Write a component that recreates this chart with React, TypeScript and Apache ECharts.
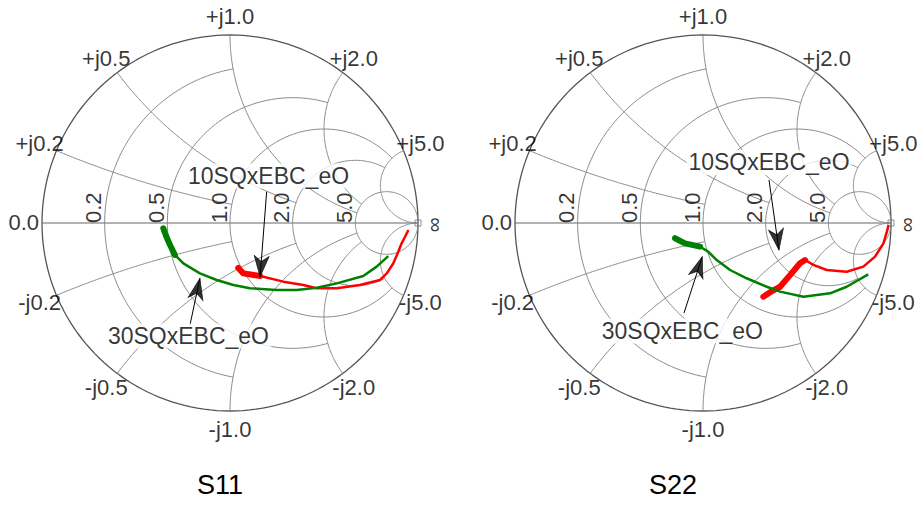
import React, { useEffect, useRef } from "react";
import * as echarts from "echarts";

// ---------- grid definition ----------
const GRID_VALUES = [0.2, 0.5, 1, 2, 5];
const R_TICK_LABELS = ["0.2", "0.5", "1.0", "2.0", "5.0"];
const POS_X_LABELS = ["+j0.2", "+j0.5", "+j1.0", "+j2.0", "+j5.0"];
const NEG_X_LABELS = ["-j0.2", "-j0.5", "-j1.0", "-j2.0", "-j5.0"];
const R_CIRCLE_MAX_X = [1, 2, 5, 5, Infinity];
const X_ARC_MAX_R = [1, 2, 5, 5, Infinity];
const CHART_TITLES = ["S11", "S22"];
const TRACE_NAMES = ["10SQxEBC_eO", "30SQxEBC_eO"];

// ---------- data (reflection coefficient, real / imaginary) ----------
// S11, 10SQxEBC_eO
const s11_10_re = [0.044, 0.071, 0.160, 0.284, 0.390, 0.461, 0.568, 0.691, 0.798, 0.834, 0.869, 0.895, 0.913, 0.931, 0.949];
const s11_10_im = [-0.239, -0.268, -0.282, -0.312, -0.330, -0.347, -0.347, -0.330, -0.303, -0.268, -0.214, -0.153, -0.108, -0.073, -0.037];
// S11, 30SQxEBC_eO
const s11_30_re = [-0.355, -0.340, -0.319, -0.293, -0.248, -0.160, -0.071, 0.018, 0.106, 0.248, 0.355, 0.461, 0.568, 0.709, 0.780, 0.842];
const s11_30_im = [-0.028, -0.069, -0.117, -0.170, -0.215, -0.268, -0.303, -0.330, -0.347, -0.356, -0.356, -0.344, -0.321, -0.282, -0.232, -0.176];
// S22, 10SQxEBC_eO
const s22_10_re = [0.321, 0.367, 0.410, 0.463, 0.516, 0.543, 0.587, 0.658, 0.764, 0.853, 0.915, 0.960, 0.978, 0.987];
const s22_10_im = [-0.392, -0.362, -0.339, -0.277, -0.214, -0.197, -0.223, -0.250, -0.259, -0.232, -0.179, -0.108, -0.046, -0.011];
// S22, 30SQxEBC_eO
const s22_30_re = [-0.149, -0.096, -0.016, 0.028, 0.073, 0.144, 0.232, 0.339, 0.410, 0.534, 0.676, 0.764, 0.879];
const s22_30_im = [-0.081, -0.108, -0.126, -0.153, -0.197, -0.250, -0.294, -0.339, -0.365, -0.392, -0.374, -0.339, -0.273];
// leading points where the trace is densely clustered
const s11_10_dense = 3;
const s11_30_dense = 4;
const s22_10_dense = 6;
const s22_30_dense = 3;

// ---------- annotation layout (in reflection-coefficient units) ----------
const ANNOT = [
  {
    l10: [0.205, 0.25], a10: [[0.195, 0.166], [0.16, -0.286]],
    l30: [-0.221, -0.601], a30: [[-0.213, -0.543], [-0.16, -0.294]],
  },
  {
    l10: [0.351, 0.322], a10: [[0.351, 0.229], [0.404, -0.144]],
    l30: [-0.11, -0.574], a30: [[-0.101, -0.479], [-0.004, -0.179]],
  },
];

const FONT = "'Liberation Sans', Arial, Helvetica, sans-serif";
const GRID_PX = [
  { left: 42, top: 35, size: 376 },
  { left: 515, top: 35, size: 376 },
];
const RADIUS_PX = 188;
const ARROW_HEAD = "path://M0,0L1,2L0,1.45L-1,2Z";

function zToGamma(r: number, x: number): [number, number] {
  if (!isFinite(r) || !isFinite(x)) return [1, 0];
  const a = r - 1, c = r + 1;
  const den = c * c + x * x;
  return [(a * c + x * x) / den, (2 * x) / den];
}

function rCircle(r: number, maxX: number): number[][] {
  const c = r / (1 + r), rad = 1 / (1 + r);
  let phi = 0;
  if (isFinite(maxX)) {
    const g = zToGamma(r, maxX);
    phi = Math.atan2(g[1], g[0] - c);
  }
  const n = 180;
  const pts: number[][] = [];
  for (let k = 0; k <= n; k++) {
    const ang = phi + ((2 * Math.PI - 2 * phi) * k) / n;
    pts.push([c + rad * Math.cos(ang), rad * Math.sin(ang)]);
  }
  return pts;
}

function xArc(x: number, maxR: number): number[][] {
  const cy = 1 / x, rad = Math.abs(1 / x);
  const g0 = zToGamma(0, x);
  const g1 = isFinite(maxR) ? zToGamma(maxR, x) : [1, 0];
  const a0 = Math.atan2(g0[1] - cy, g0[0] - 1);
  const a1 = Math.atan2(g1[1] - cy, g1[0] - 1);
  let d = a1 - a0;
  while (d > Math.PI) d -= 2 * Math.PI;
  while (d < -Math.PI) d += 2 * Math.PI;
  const n = 120;
  const pts: number[][] = [];
  for (let k = 0; k <= n; k++) {
    const ang = a0 + (d * k) / n;
    pts.push([1 + rad * Math.cos(ang), cy + rad * Math.sin(ang)]);
  }
  return pts;
}

function zip(re: number[], im: number[]) {
  return re.map((v, i) => [v, im[i]]);
}

function buildOption() {
  const series: any[] = [];
  const traces = [
    [
      { re: s11_10_re, im: s11_10_im, dense: s11_10_dense, color: "#ff0000" },
      { re: s11_30_re, im: s11_30_im, dense: s11_30_dense, color: "#008000" },
    ],
    [
      { re: s22_10_re, im: s22_10_im, dense: s22_10_dense, color: "#ff0000" },
      { re: s22_30_re, im: s22_30_im, dense: s22_30_dense, color: "#008000" },
    ],
  ];

  for (let ci = 0; ci < 2; ci++) {
    const base = { xAxisIndex: ci, yAxisIndex: ci, silent: true, animation: false };
    const gridLine = (data: number[][], color: string, width: number) => ({
      ...base,
      type: "line",
      data,
      showSymbol: false,
      symbol: "none",
      clip: false,
      z: 1,
      lineStyle: { color, width },
    });
    // outer circle
    series.push(gridLine(rCircle(0, Infinity), "#555555", 1.3));
    // real axis
    series.push(gridLine([[-1, 0], [1, 0]], "#666666", 1));
    GRID_VALUES.forEach((v, i) => {
      series.push(gridLine(rCircle(v, R_CIRCLE_MAX_X[i]), "#8a8a8a", 1));
      series.push(gridLine(xArc(v, X_ARC_MAX_R[i]), "#8a8a8a", 1));
      series.push(gridLine(xArc(-v, X_ARC_MAX_R[i]), "#8a8a8a", 1));
    });

    // traces
    traces[ci].forEach((t, ti) => {
      const pts = zip(t.re, t.im);
      series.push({
        ...base,
        type: "line",
        name: TRACE_NAMES[ti],
        data: pts,
        showSymbol: false,
        symbol: "none",
        z: 3,
        lineStyle: { color: t.color, width: 2.5 },
      });
      series.push({
        ...base,
        type: "line",
        data: pts.slice(0, t.dense),
        showSymbol: false,
        symbol: "none",
        z: 3,
        lineStyle: { color: t.color, width: 6, cap: "round", join: "round" },
      });
    });

    // infinity marker
    series.push({
      ...base,
      type: "scatter",
      data: [[1, 0]],
      symbol: "rect",
      symbolSize: 6,
      clip: false,
      z: 2,
      itemStyle: { color: "rgba(0,0,0,0)", borderColor: "#777", borderWidth: 1 },
    });

    // text labels
    const labelItems: any[] = [];
    const txt = (value: number[], text: string, extra: any = {}) => ({
      value,
      label: {
        show: true,
        position: "inside",
        formatter: text,
        color: "#000",
        fontFamily: FONT,
        fontSize: 22,
        align: "center",
        verticalAlign: "middle",
        ...extra,
      },
    });
    const k = 1.097;
    GRID_VALUES.forEach((v, i) => {
      const gp = zToGamma(0, v);
      const gn = zToGamma(0, -v);
      labelItems.push(txt([gp[0] * k, gp[1] * k], POS_X_LABELS[i]));
      labelItems.push(txt([gn[0] * k, gn[1] * k], NEG_X_LABELS[i]));
      const cross = (v - 1) / (v + 1);
      labelItems.push(txt([cross, 0], R_TICK_LABELS[i], { rotate: 90, align: "left", verticalAlign: "bottom" }));
    });
    labelItems.push(txt([-k, 0.005], "0.0"));
    labelItems.push(txt([1.08, -0.01], "∞", { rotate: 90, align: "center", verticalAlign: "middle", lineHeight: 12, fontSize: 21 }));
    series.push({
      ...base,
      type: "scatter",
      data: labelItems,
      symbolSize: 1,
      clip: false,
      z: 6,
      itemStyle: { color: "rgba(0,0,0,0)" },
    });

    // annotations
    const an = ANNOT[ci];
    [
      { l: an.l10, a: an.a10, name: TRACE_NAMES[0] },
      { l: an.l30, a: an.a30, name: TRACE_NAMES[1] },
    ].forEach((a) => {
      series.push({
        ...base,
        type: "line",
        data: a.a,
        showSymbol: false,
        symbol: "none",
        z: 7,
        lineStyle: { color: "#000", width: 1 },
      });
      const [p0, p1] = a.a;
      const dx = p1[0] - p0[0], dy = p1[1] - p0[1];
      const len = Math.hypot(dx, dy);
      const headLen = 21 / RADIUS_PX;
      const c = [p1[0] - (dx / len) * headLen / 2, p1[1] - (dy / len) * headLen / 2];
      const rot = (Math.atan2(-dx, dy) * 180) / Math.PI;
      series.push({
        ...base,
        type: "scatter",
        data: [{ value: c, symbolSize: [15, 21] }],
        symbol: ARROW_HEAD,
        symbolSize: [15, 21],
        symbolRotate: rot,
        z: 8,
        itemStyle: { color: "#000", borderColor: "#000", borderWidth: 0.8 },
      });
      series.push({
        ...base,
        type: "scatter",
        data: [
          txt(a.l, a.name, { fontSize: 23, backgroundColor: "#ffffff", padding: [1, 2] }),
        ],
        symbolSize: 1,
        z: 9,
        itemStyle: { color: "rgba(0,0,0,0)" },
      });
    });
  }

  return {
    animation: false,
    backgroundColor: "#ffffff",
    title: [
      { text: CHART_TITLES[0], left: 197, top: 471, padding: 0, textStyle: { fontSize: 27, fontWeight: "normal", color: "#000", fontFamily: FONT } },
      { text: CHART_TITLES[1], left: 649, top: 471, padding: 0, textStyle: { fontSize: 27, fontWeight: "normal", color: "#000", fontFamily: FONT } },
    ],
    grid: GRID_PX.map((g) => ({ left: g.left, top: g.top, width: g.size, height: g.size, containLabel: false })),
    xAxis: [0, 1].map((i) => ({ type: "value", gridIndex: i, min: -1, max: 1, show: false })),
    yAxis: [0, 1].map((i) => ({ type: "value", gridIndex: i, min: -1, max: 1, show: false })),
    series,
  };
}

export default function App() {
  const ref = useRef<HTMLDivElement>(null);
  useEffect(() => {
    if (!ref.current) return;
    const chart = echarts.init(ref.current, null, { renderer: "svg" });
    chart.setOption(buildOption() as any);
    return () => chart.dispose();
  }, []);
  return (
    <div
      ref={ref}
      style={{ position: "absolute", left: 0, top: 0, width: 919, height: 506, background: "#fff" }}
    />
  );
}
